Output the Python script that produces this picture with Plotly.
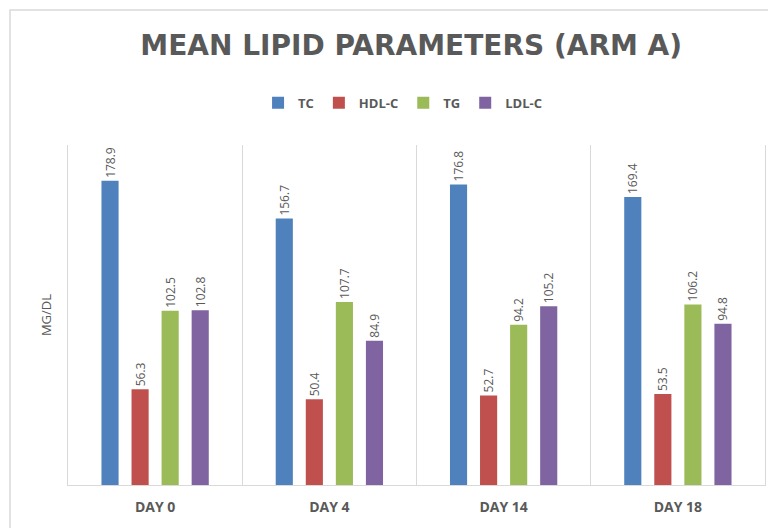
import plotly.graph_objects as go

categories = ["DAY 0", "DAY 4", "DAY 14", "DAY 18"]
series_names = ["TC", "HDL-C", "TG", "LDL-C"]
tc = [178.9, 156.7, 176.8, 169.4]
hdl = [56.3, 50.4, 52.7, 53.5]
tg = [102.5, 107.7, 94.2, 106.2]
ldl = [102.8, 84.9, 105.2, 94.8]
colors = ["#4F81BD", "#C0504D", "#9BBB59", "#8064A2"]

fig = go.Figure()
for name, vals, col in zip(series_names, [tc, hdl, tg, ldl], colors):
    fig.add_trace(go.Bar(
        name=name, x=categories, y=vals,
        marker=dict(color=col, line=dict(width=0)),
        text=[f"{v:.1f}" for v in vals],
        textposition="outside", textangle=-90, constraintext="none",
        textfont=dict(family="Open Sans", size=12, color="#595959"),
        cliponaxis=False,
    ))

fig.update_layout(
    width=768, height=520,
    margin=dict(l=60, r=11, t=137, b=43, autoexpand=False),
    paper_bgcolor="white", plot_bgcolor="white",
    barmode="group", bargap=0.31, bargroupgap=0.43,
    title=dict(text="<b>MEAN LIPID PARAMETERS (ARM A)</b>",
               font=dict(family="DejaVu Sans", size=28, color="#595959"),
               x=0.525, xanchor="center", y=1 - 37 / 520, yanchor="middle",
               yref="container"),
    legend=dict(orientation="h", x=0.48, xanchor="center", y=1.124, yanchor="middle",
                font=dict(family="Open Sans", size=13, color="#595959", weight="bold"),
                itemclick=False, traceorder="normal"),
    font=dict(family="Open Sans", color="#595959"),
    xaxis=dict(tickson="boundaries", showgrid=True, gridcolor="#d9d9d9", gridwidth=1,
               showline=True, linecolor="#d9d9d9", linewidth=1, ticks="",
               automargin=False, ticklabelstandoff=9,
               tickfont=dict(family="Open Sans", size=14, color="#595959", weight="bold")),
    yaxis=dict(range=[0, 200], showgrid=False, zeroline=False, showticklabels=False,
               showline=True, mirror=True, linecolor="#d9d9d9", linewidth=1, ticks="",
               automargin=False,
               title=dict(text="MG/DL", standoff=12,
                          font=dict(family="Open Sans", size=13, color="#595959"))),
    showlegend=True,
)

fig.add_shape(type="rect", xref="paper", yref="paper",
              x0=-0.0832, x1=2, y0=-1, y1=1.397,
              line=dict(color="#d9d9d9", width=1.5), fillcolor="rgba(0,0,0,0)",
              layer="below")

fig.write_html("out.html")
